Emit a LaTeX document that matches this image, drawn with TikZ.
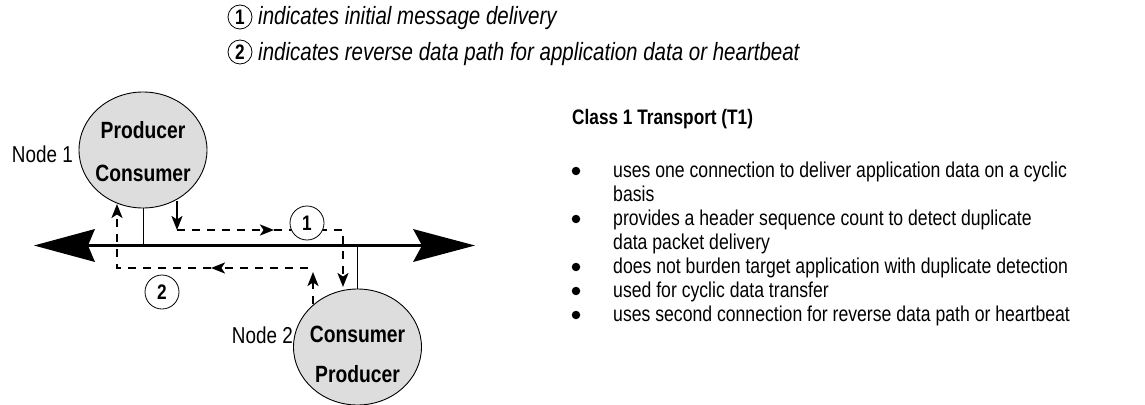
\documentclass[tikz,border=0pt]{standalone}
\usepackage{fontspec}
\setmainfont{Liberation Sans}[FakeStretch=0.82]
\usetikzlibrary{arrows.meta,shapes.geometric,calc}
\definecolor{nodefill}{RGB}{221,221,221}

\begin{document}
\begin{tikzpicture}[x=1pt,y=-1pt,
  station/.style={ellipse,draw,line width=0.9pt,fill=nodefill,
    minimum width=128pt,minimum height=116pt,inner sep=0pt},
  stationtext/.style={anchor=base,inner sep=0pt,font=\fontsize{23.5}{26}\selectfont\bfseries},
  nodelabel/.style={anchor=base east,inner sep=0pt,font=\fontsize{23}{26}\selectfont},
  numcirc/.style={circle,draw,line width=0.8pt,fill=white,minimum size=34pt,inner sep=0pt,
    font=\fontsize{21}{24}\selectfont\bfseries},
  keycirc/.style={circle,draw,line width=0.8pt,fill=white,minimum size=24pt,inner sep=0pt,
    font=\fontsize{21}{24}\selectfont\bfseries},
  keytext/.style={anchor=base west,inner sep=0pt,font=\fontsize{25}{28}\selectfont\itshape},
  headtext/.style={anchor=base west,inner sep=0pt,font=\fontsize{21}{24}\selectfont\bfseries},
  itemtext/.style={anchor=base west,inner sep=0pt,font=\fontsize{21.5}{24}\selectfont},
  dot/.style={circle,fill=black,minimum size=8.5pt,inner sep=0pt},
  flow/.style={line width=2.2pt,dash pattern=on 8pt off 7pt},
  tip/.style={-{Stealth[length=14pt,width=11pt,inset=3.5pt]}},
  bus/.style={line width=2.6pt},
  drop/.style={line width=0.9pt}]

\useasboundingbox (0,0) rectangle (1145,404);

% legend
\node[keycirc] (k1) at (240,17) {1};
\node[keytext] (k1t) at (258,25) {indicates initial message delivery};
\node[keycirc] (k2) at (240,52) {2};
\node[keytext] (k2t) at (258,60) {indicates reverse data path for application data or heartbeat};

% network bus with its two large arrowheads
\coordinate (busL) at (88,245.5);
\coordinate (busR) at (422,245.5);
\coordinate (tipL) at (34,245.5);
\coordinate (tipR) at (475,245.5);
\draw[bus] (busL) -- (busR);
\fill (tipL) -- (95,229) -- (busL) -- (95,262) -- cycle;
\fill (tipR) -- (413,229) -- (busR) -- (413,262) -- cycle;

% the two stations
\node[station] (n1) at (143,150) {};
\node[station] (n2) at (357.5,347) {};
\draw[drop] (n1.south) -- (n1.south |- busL);
\draw[drop] (n2.north) -- (n2.north |- busR);
\node[stationtext] (n1a) at (143,138) {Producer};
\node[stationtext] (n1b) at (143,181) {Consumer};
\node[stationtext] (n2a) at (357.5,342) {Consumer};
\node[stationtext] (n2b) at (357.5,382) {Producer};
\node[nodelabel] (l1) at (73,162) {Node 1};
\node[nodelabel] (l2) at (293,343) {Node 2};

% path 1: initial message delivery
\coordinate (p1a) at (177,201);
\coordinate (p1b) at (177,230);
\coordinate (p1m) at (274,230);
\coordinate (p1c) at (343,230);
\coordinate (p1d) at (343,287);
\draw[line width=2.2pt,tip] (p1a) -- (p1b);
\draw[flow,tip] (p1b) -- (p1m);
\draw[flow,tip] (p1m) -- (p1c) -- (p1d);
\node[numcirc] (c1) at (307,223) {1};

% path 2: reverse data path
\coordinate (p2a) at (313,304);
\coordinate (p2b) at (313,272);
\coordinate (p2c) at (308,268);
\coordinate (p2m) at (211,268);
\coordinate (p2d) at (117,268);
\coordinate (p2e) at (117,204);
\draw[flow,tip] (p2a) -- (p2b);
\draw[flow,tip] (p2c) -- (p2m);
\draw[flow,tip] (p2m) -- (p2d) -- (p2e);
\node[numcirc] (c2) at (162,292) {2};

% description
\node[headtext] (hd) at (572,124) {Class 1 Transport (T1)};
\node[dot] (b1) at (576,171) {};
\node[itemtext] (t1a) at (613,177) {uses one connection to deliver application data on a cyclic};
\node[itemtext] (t1b) at (613,201) {basis};
\node[dot] (b2) at (576,219) {};
\node[itemtext] (t2a) at (613,225) {provides a header sequence count to detect duplicate};
\node[itemtext] (t2b) at (613,249) {data packet delivery};
\node[dot] (b3) at (576,267) {};
\node[itemtext] (t3) at (613,273) {does not burden target application with duplicate detection};
\node[dot] (b4) at (576,291) {};
\node[itemtext] (t4) at (613,297) {used for cyclic data transfer};
\node[dot] (b5) at (576,315) {};
\node[itemtext] (t5) at (613,321) {uses second connection for reverse data path or heartbeat};
\end{tikzpicture}
\end{document}
